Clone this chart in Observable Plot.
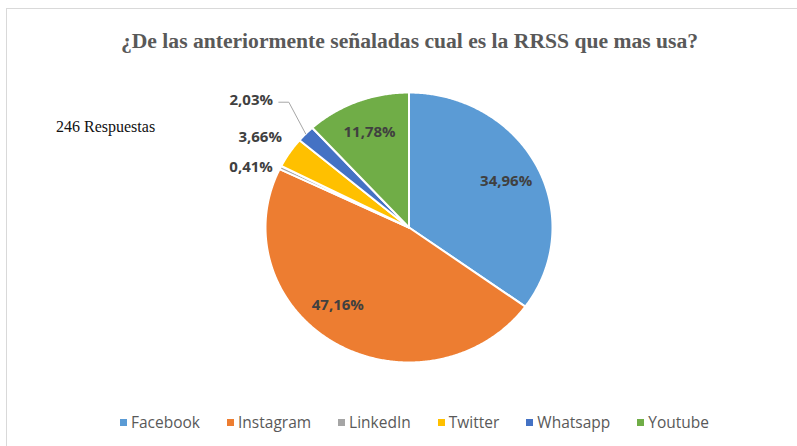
<!DOCTYPE html>
<html><head><meta charset="utf-8">
<script src="https://cdn.jsdelivr.net/npm/d3@7"></script>
<script src="https://cdn.jsdelivr.net/npm/@observablehq/plot@0.6"></script>
<style>
body{margin:0;background:#fff;}
#wrap{position:relative;width:797px;height:446px;overflow:hidden;background:#fff;}
#frame{position:absolute;left:6px;top:8px;width:830px;height:480px;border:1px solid #d9d9d9;box-sizing:border-box;}
#chart{position:absolute;left:0;top:0;}
#title{position:absolute;left:0;width:819px;top:29px;margin:0;text-align:center;font:bold 21.6px "Liberation Serif",serif;color:#595959;white-space:nowrap;}
#resp{position:absolute;left:56px;top:118px;font:16px "Liberation Serif",serif;color:#111;}
#legend{position:absolute;left:0;top:411px;width:829px;}
#legend .lg-swatches-wrap{justify-content:center;min-height:20px;}
#legend .lg-swatch{margin-right:27px;}
#legend .lg-swatch:last-child{margin-right:0;}
#legend .lg-swatch > svg{margin-right:4px;}
</style></head><body>
<div id="wrap">
  <div id="frame"></div>
  <div id="chart"></div>
  <h2 id="title"></h2>
  <div id="resp"></div>
  <div id="legend"></div>
</div>
<script>
// ---- data ----
const titleText = "¿De las anteriormente señaladas cual es la RRSS que mas usa?";
const responsesText = "246 Respuestas";
const categories = ["Facebook", "Instagram", "LinkedIn", "Twitter", "Whatsapp", "Youtube"];
const shares = [34.96, 47.16, 0.41, 3.66, 2.03, 11.78];
const shareLabels = ["34,96%", "47,16%", "0,41%", "3,66%", "2,03%", "11,78%"];
const colors = ["#5B9BD5", "#ED7D31", "#A5A5A5", "#FFC000", "#4472C4", "#70AD47"];

// ---- layout (not data) ----
const outsideRadius = {LinkedIn: 1.05, Twitter: 1.11, Whatsapp: 1.25};
const insideRadius = 0.76;
const angleNudge = {Instagram: 10, LinkedIn: -1, Twitter: 3.4, Whatsapp: 4};
const leaderCats = ["Whatsapp"];

document.getElementById("title").textContent = titleText;
document.getElementById("resp").textContent = responsesText;

const rows = categories.map((name, i) => ({name, share: shares[i], label: shareLabels[i]}));
const arcs = d3.pie().sort(null).value(d => d.share)(rows);

const slicePts = [];
const labels = [];
const leaders = [];
for (const a of arcs) {
  const name = a.data.name;
  slicePts.push({name, x: 0, y: 0});
  const n = Math.max(2, Math.ceil((a.endAngle - a.startAngle) / (Math.PI / 360)));
  for (let i = 0; i <= n; i++) {
    const t = a.startAngle + (a.endAngle - a.startAngle) * i / n;
    slicePts.push({name, x: Math.sin(t), y: Math.cos(t)});
  }
  slicePts.push({name, x: 0, y: 0});
  const mid0 = (a.startAngle + a.endAngle) / 2;
  const mid = mid0 + (angleNudge[name] || 0) * Math.PI / 180;
  if (outsideRadius[name]) {
    const r = outsideRadius[name];
    let lx = Math.sin(mid) * r, ly = Math.cos(mid) * r;
    let dy = 0;
    if (leaderCats.includes(name)) {
      leaders.push({name, x: Math.sin(mid0), y: Math.cos(mid0)});
      leaders.push({name, x: lx, y: ly});
      leaders.push({name, x: lx - 0.07, y: ly});
      lx -= 0.11;
      dy = -2;
    }
    labels.push({x: lx, y: ly, dy, text: a.data.label, anchor: "end"});
  } else {
    labels.push({x: Math.sin(mid) * insideRadius, y: Math.cos(mid) * insideRadius, dy: 0, text: a.data.label, anchor: "middle"});
  }
}

const labelStyle = {fill: "#404040", fontSize: 15, fontWeight: "bold", fontFamily: "Open Sans"};
const chart = Plot.plot({
  width: 797,
  height: 446,
  margin: 0,
  x: {domain: [-1, 1], range: [265, 552], axis: null},
  y: {domain: [-1, 1], range: [362, 92], axis: null},
  color: {domain: categories, range: colors},
  style: {background: "transparent", overflow: "visible"},
  marks: [
    Plot.line(slicePts, {x: "x", y: "y", z: "name", fill: "name", stroke: "white", strokeWidth: 2, strokeLinejoin: "round"}),
    Plot.line(leaders, {x: "x", y: "y", z: "name", stroke: "#a6a6a6", strokeWidth: 1}),
    Plot.text(labels.filter(d => d.anchor === "middle"), {x: "x", y: "y", text: "text", textAnchor: "middle", ...labelStyle}),
    Plot.text(labels.filter(d => d.anchor === "end" && d.dy === 0), {x: "x", y: "y", text: "text", textAnchor: "end", ...labelStyle}),
    Plot.text(labels.filter(d => d.anchor === "end" && d.dy !== 0), {x: "x", y: "y", text: "text", textAnchor: "end", dy: -2, ...labelStyle})
  ]
});
document.getElementById("chart").appendChild(chart);

const leg = Plot.legend({
  color: {domain: categories, range: colors},
  legend: "swatches",
  swatchSize: 7,
  className: "lg",
  style: {fontFamily: "Open Sans", fontSize: "15.5px", color: "#595959"}
});
document.getElementById("legend").appendChild(leg);
</script>
</body></html>
